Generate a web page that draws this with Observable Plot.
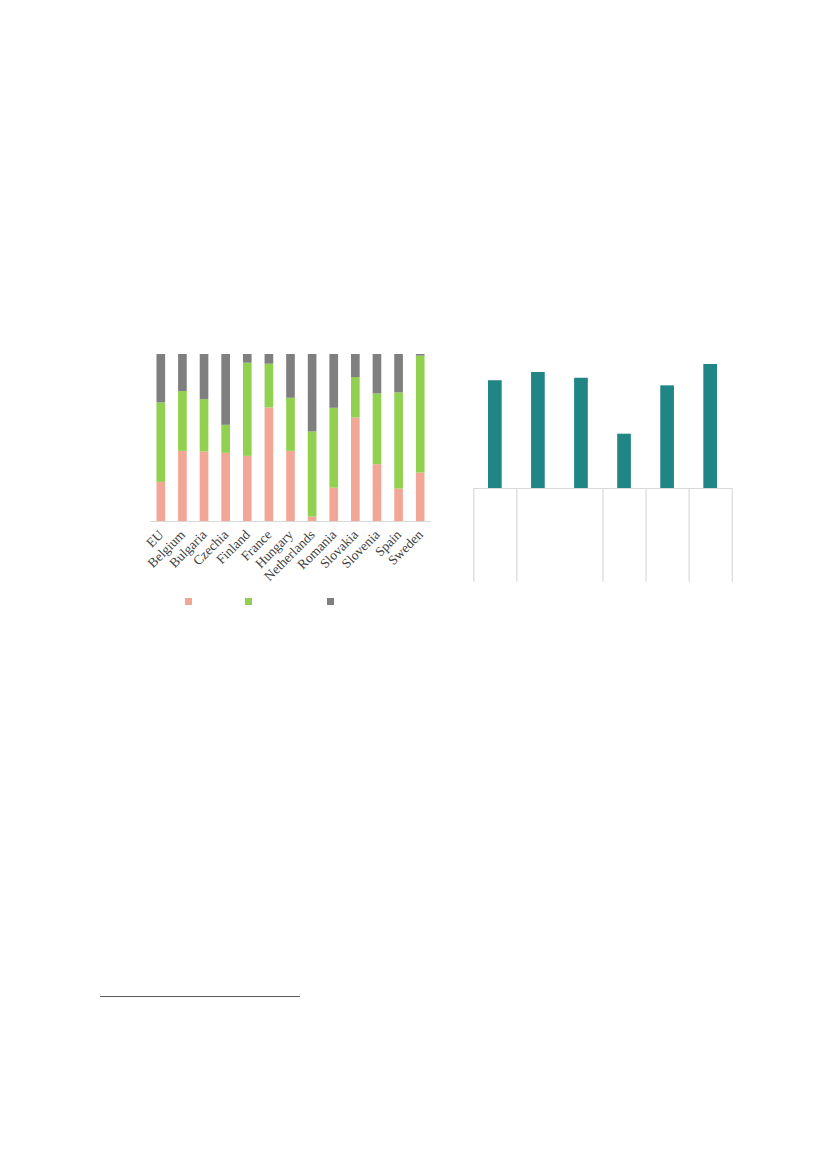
<!DOCTYPE html>
<html>
<head>
<meta charset="utf-8">
<script src="https://cdn.jsdelivr.net/npm/d3@7"></script>
<script src="https://cdn.jsdelivr.net/npm/@observablehq/plot@0.6"></script>
<style>
  html, body { margin: 0; padding: 0; background: #fff; }
  #page { position: relative; width: 827px; height: 1169px; background: #fff; overflow: hidden; }
  #left { position: absolute; left: 100px; top: 330px; }
  #right { position: absolute; left: 460px; top: 340px; }
  .sw { position: absolute; width: 7px; height: 7px; top: 598px; }
  #footrule { position: absolute; left: 100px; top: 996px; width: 200px; height: 0; border-top: 1.2px solid #595959; }
</style>
</head>
<body>
<div id="page">
  <div id="left"></div>
  <div id="right"></div>
  <div id="legend"></div>
  <div id="footrule"></div>
</div>
<script>
// ---- Left chart data (shares, %) ----
const countries = ["EU","Belgium","Bulgaria","Czechia","Finland","France","Hungary","Netherlands","Romania","Slovakia","Slovenia","Spain","Sweden"];
const seriesA = [23.4, 42.0, 41.6, 40.8, 39.0, 68.0, 42.0, 2.6, 20.0, 62.0, 34.0, 19.4, 29.0];   // pink
const seriesB = [47.6, 35.8, 31.4, 16.8, 55.8, 26.2, 31.8, 51.0, 47.8, 24.2, 42.4, 57.6, 70.0];  // green
const seriesC = [29.0, 22.2, 27.0, 42.4, 5.2, 5.8, 26.2, 46.4, 32.2, 13.8, 23.6, 23.0, 1.0];     // grey
const seriesKeys = ["A", "B", "C"];
const seriesColors = ["#F2A696", "#92D050", "#7F7F7F"];

// ---- Right chart data ----
const rightCats = ["c1","c2","c3","c4","c5","c6"];
const rightGroups = ["g1","g2","g2","g3","g4","g5"];
const rightValues = [78.2, 84.2, 80.0, 39.4, 74.5, 90.0];
const rightMax = 100;
const tableDepth = 68;

// Build long table
const long = [];
countries.forEach((c, i) => {
  [seriesA, seriesB, seriesC].forEach((s, j) => long.push({country: c, series: seriesKeys[j], value: s[i]}));
});

const left = Plot.plot({
  width: 350,
  height: 265,
  marginLeft: 50,
  marginRight: 19,
  marginTop: 24,
  marginBottom: 74,
  style: {fontFamily: "'Liberation Serif', 'DejaVu Serif', serif", fontSize: "13.5px", color: "#404040", background: "transparent"},
  x: {domain: countries, paddingInner: 0.6, paddingOuter: 0.3, round: false, label: null},
  y: {domain: [0, 100], axis: null},
  color: {domain: seriesKeys, range: seriesColors},
  marks: [
    Plot.barY(long, {x: "country", y: "value", fill: "series"}),
    Plot.ruleY([0], {stroke: "#D9D9D9", strokeWidth: 1.2}),
    Plot.axisX({tickSize: 0, tickRotate: -45, tickPadding: 11, label: null, fill: "#404040", fontSize: 13.5})
  ]
});
document.getElementById("left").appendChild(left);

// Right chart
const rightData = rightCats.map((c, i) => ({i, cat: c, group: rightGroups[i], value: rightValues[i]}));
const boundaries = [0];
rightGroups.forEach((g, i) => { if (i > 0 && g !== rightGroups[i - 1]) boundaries.push(i); });
boundaries.push(rightGroups.length);

const right = Plot.plot({
  width: 290,
  height: 250,
  marginLeft: 13.3,
  marginRight: 18.3,
  marginTop: 10.2,
  marginBottom: 8.3,
  style: {background: "transparent"},
  x: {domain: [0, rightCats.length], axis: null},
  y: {domain: [-tableDepth, rightMax], axis: null},
  marks: [
    Plot.rectY(rightData, {x: "i", interval: 1, y1: 0, y2: "value", fill: "#1F8585", insetLeft: 14.7, insetRight: 14.7}),
    Plot.ruleX(boundaries, {y1: -tableDepth, y2: 0, stroke: "#D9D9D9", strokeWidth: 1.2}),
    Plot.ruleY([0], {stroke: "#D9D9D9", strokeWidth: 1.2})
  ]
});
document.getElementById("right").appendChild(right);

// Legend (swatches only)
const legendLefts = [185, 245, 327];
const legend = document.getElementById("legend");
seriesKeys.forEach((k, j) => {
  const d = document.createElement("div");
  d.className = "sw";
  d.style.left = legendLefts[j] + "px";
  d.style.background = seriesColors[j];
  legend.appendChild(d);
});
</script>
</body>
</html>
